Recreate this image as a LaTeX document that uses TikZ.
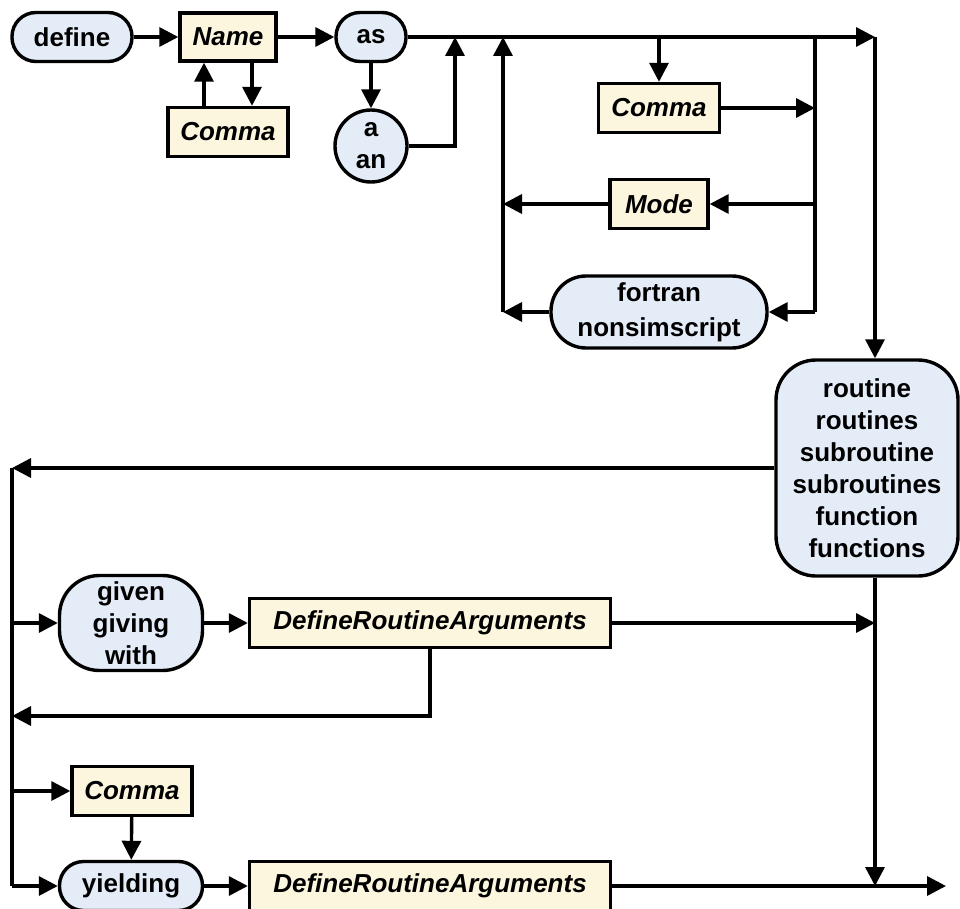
\documentclass[tikz,border=0pt]{standalone}
\usepackage{fontspec}
\setmainfont{Liberation Sans}
\usetikzlibrary{arrows.meta}
\definecolor{termfill}{RGB}{228,236,247}
\definecolor{ntfill}{RGB}{253,246,222}
\begin{document}
\begin{tikzpicture}[x=1pt,y=-1pt,line width=3.4pt,
  >={Triangle[length=19pt,width=19pt]},
  box/.style={draw,line width=3.4pt,align=center,inner sep=0pt,
    font=\fontsize{26}{32}\selectfont\bfseries},
  term/.style={box,fill=termfill},
  nonterm/.style={box,fill=ntfill,font=\fontsize{26}{32}\selectfont\bfseries\itshape}]
\useasboundingbox (0,0) rectangle (960,909);

% keywords and rule references
\node[term,minimum width=120pt,minimum height=49pt,rounded corners=24pt] (define) at (72,37) {define};
\node[nonterm,minimum width=96pt,minimum height=48pt] (name) at (228,37) {Name};
\node[nonterm,minimum width=120pt,minimum height=49pt] (comA) at (228,132) {Comma};
\node[term,minimum width=70pt,minimum height=49pt,rounded corners=24pt] (as) at (371,37) {as};
\node[term,circle,minimum size=72pt] (aan) at (371,146) {a\\an};
\node[nonterm,minimum width=121pt,minimum height=49pt] (comB) at (659,108) {Comma};
\node[nonterm,minimum width=98pt,minimum height=49pt] (mode) at (659,204) {Mode};
\node[term,minimum width=216pt,minimum height=72pt,rounded corners=35pt,
  font=\fontsize{26}{35}\selectfont\bfseries] (fortran) at (659,312) {fortran\\nonsimscript};
\node[term,minimum width=182pt,minimum height=216pt,rounded corners=40pt] (routine) at (867,468)
  {routine\\routines\\subroutine\\subroutines\\function\\functions};
\node[term,minimum width=143pt,minimum height=95pt,rounded corners=40pt] (given) at (131,623) {given\\giving\\with};
\node[nonterm,minimum width=361pt,minimum height=49pt] (dra1) at (430,623) {DefineRoutineArguments};
\node[nonterm,minimum width=120pt,minimum height=49pt] (comC) at (132,791) {Comma};
\node[term,minimum width=143pt,minimum height=49pt,rounded corners=24pt] (yielding) at (131,886) {yielding};
\node[nonterm,minimum width=361pt,minimum height=49pt] (dra2) at (430,886) {DefineRoutineArguments};

% junction points
\coordinate (j1) at (455,37);
\coordinate (j2) at (503,37);
\coordinate (j3) at (659,37);
\coordinate (j4) at (815,37);
\coordinate (j5) at (875,37);
\coordinate (rail) at (12,468);
\coordinate (back) at (12,716);
\coordinate (exit) at (946,886);

% header: define Name {, Name} as [a|an]
\draw[->] (define) -- (name);
\draw[->] (name) -- (as);
\draw[->] ([xshift=-24pt]comA.north) -- ([xshift=-24pt]name.south);
\draw[->] ([xshift=24pt]name.south) -- ([xshift=24pt]comA.north);
\draw[->] (as) -- (aan);
\draw[->] (aan.east) -| (j1);
\draw[->] (as) -- (j5);

% optional modifiers loop
\draw[->] (j3) -- (comB);
\draw[->] (comB) -- (comB -| j4);
\draw (j4) -- (fortran -| j4);
\draw[->] (mode -| j4) -- (mode);
\draw[->] (mode) -- (mode -| j2);
\draw[->] (fortran -| j4) -- (fortran);
\draw[->] (fortran) -- (fortran -| j2);
\draw[->] (fortran -| j2) -- (j2);

% routine kind
\draw[->] (j5) -- (routine.north -| j5);
\draw[->] (routine.west) -- (rail);
\draw (rail) -- (yielding -| rail);

% arguments
\draw[->] (given -| rail) -- (given);
\draw[->] (given) -- (dra1);
\draw[->] (dra1) -- (dra1 -| j5);
\draw[->] (dra1.south) |- (back);
\draw[->] (comC -| rail) -- (comC);
\draw[->] (comC) -- (yielding);
\draw[->] (yielding -| rail) -- (yielding);
\draw[->] (yielding) -- (dra2);
\draw[->] (dra2) -- (exit);
\draw[->] (routine.south -| j5) -- (dra2 -| j5);
\end{tikzpicture}
\end{document}
